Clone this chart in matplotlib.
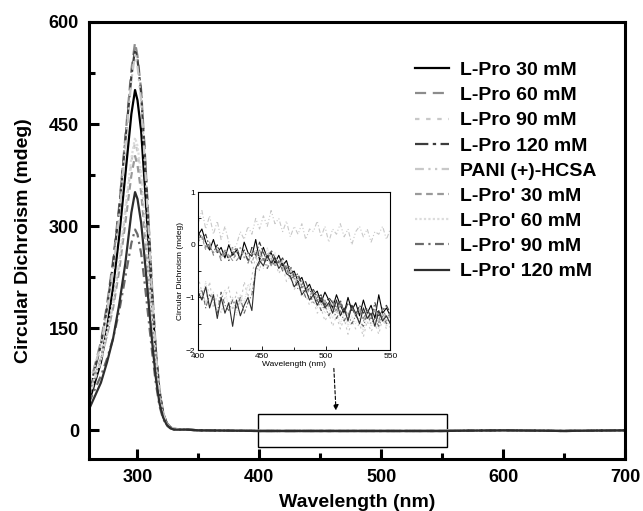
import numpy as np
import matplotlib
matplotlib.use("Agg")
import matplotlib.pyplot as plt
from matplotlib.patches import Rectangle

plt.rcParams['font.family'] = ['Liberation Sans', 'DejaVu Sans']

# ---------------------------------------------------------------------
# data
# ---------------------------------------------------------------------
labels = ["L-Pro 30 mM", "L-Pro 60 mM", "L-Pro 90 mM", "L-Pro 120 mM",
          "PANI (+)-HCSA", "L-Pro' 30 mM", "L-Pro' 60 mM", "L-Pro' 90 mM",
          "L-Pro' 120 mM"]

# main spectrum wavelengths (nm)
wl = [260, 265, 270, 275, 280, 285, 290, 295, 298, 300, 303, 306, 309, 312,
      315, 318, 321, 324, 327, 330, 340, 350, 400, 450, 500, 550, 600, 650, 700]

cd_lpro30 = [40, 70, 100, 150, 210, 285, 375, 465, 500, 485, 440, 360, 275, 190,
             110, 55, 25, 10, 4, 2, 1, 0, -1, -1, -1, -1, 0, -1, 0]
cd_lpro60 = [60, 95, 130, 185, 250, 330, 430, 530, 570, 550, 500, 410, 310, 210,
             120, 60, 27, 11, 5, 2, 1, 0, -1, -1, -1, -1, 0, -1, 0]
cd_lpro90 = [45, 75, 100, 140, 185, 245, 320, 395, 423, 410, 370, 305, 230, 160,
             95, 48, 22, 9, 4, 2, 1, 0, 0, 0, -1, -1, 0, -1, 0]
cd_lpro120 = [55, 90, 125, 180, 245, 325, 425, 520, 560, 545, 495, 405, 305, 205,
              118, 58, 26, 10, 4, 2, 1, 0, -1, -1, -1, -1, 0, -1, 0]
cd_pani = [65, 95, 125, 175, 235, 315, 415, 515, 552, 535, 485, 395, 300, 200,
           115, 57, 26, 10, 4, 2, 1, 0, 0, 0, 0, 0, 0, 0, 0]
cd_lpro2_30 = [50, 80, 105, 140, 180, 235, 305, 375, 403, 390, 350, 290, 220, 150,
               90, 45, 21, 9, 4, 2, 1, 0, -1, -1, -1, -1, 0, -1, 0]
cd_lpro2_60 = [48, 78, 105, 145, 190, 250, 325, 400, 430, 418, 378, 310, 235, 162,
               96, 48, 22, 9, 4, 2, 1, 0, -1, -1, -1, -1, 0, -1, 0]
cd_lpro2_90 = [40, 60, 80, 105, 135, 175, 225, 275, 295, 288, 260, 215, 165, 115,
               70, 36, 17, 7, 3, 1, 1, 0, -1, -1, -1, -1, 0, -1, 0]
cd_lpro2_120 = [30, 50, 70, 100, 135, 185, 245, 320, 350, 340, 305, 250, 190, 130,
                78, 40, 19, 8, 3, 1, 1, 0, -1, -1, -1, -1, 0, -1, 0]

# zoomed region 400-550 nm (mdeg), equally spaced samples
in_lpro30 = [0.18, 0.30, 0.05, -0.10, 0.10, -0.15, -0.05, -0.25, 0.00, -0.20,
             -0.10, -0.28, 0.05, -0.15, -0.22, 0.10, -0.30, -0.05, -0.25, -0.15,
             -0.35, -0.20, -0.40, -0.30, -0.55, -0.50, -0.70, -0.62, -0.85, -0.75,
             -0.95, -0.88, -1.10, -0.90, -1.05, -1.20, -0.95, -1.15, -1.30, -1.00,
             -1.25, -1.10, -1.35, -1.05, -1.30, -1.15, -1.40, -0.95, -1.30, -1.20,
             -1.35]
in_lpro60 = [0.10, 0.20, -0.05, 0.05, -0.20, -0.10, -0.30, -0.15, -0.25, -0.05,
             -0.30, -0.20, -0.10, -0.35, -0.15, -0.25, -0.10, -0.30, -0.20, -0.40,
             -0.25, -0.35, -0.30, -0.50, -0.45, -0.65, -0.60, -0.80, -0.78, -0.95,
             -0.90, -1.05, -1.00, -1.10, -1.15, -1.05, -1.25, -1.10, -1.20, -1.35,
             -1.15, -1.30, -1.20, -1.40, -1.25, -1.35, -1.25, -1.45, -1.20, -1.40,
             -1.30]
in_lpro90 = [-0.60, -0.90, -1.10, -0.70, -1.20, -0.95, -1.30, -1.00, -0.80, -1.25,
             -0.90, -1.15, -0.70, -1.00, -0.60, -0.20, -0.50, -0.10, -0.40, -0.20,
             -0.30, -0.55, -0.40, -0.70, -0.60, -0.85, -0.75, -1.00, -0.95, -1.15,
             -1.05, -1.30, -1.20, -1.45, -1.30, -1.55, -1.35, -1.60, -1.40, -1.70,
             -1.45, -1.60, -1.50, -1.75, -1.45, -1.65, -1.50, -1.70, -1.40, -1.60,
             -1.55]
in_lpro120 = [0.25, 0.10, 0.20, -0.05, -0.15, 0.00, -0.20, -0.10, -0.30, -0.15,
              -0.05, -0.25, -0.10, -0.30, -0.05, -0.20, 0.05, -0.15, -0.30, -0.10,
              -0.25, -0.35, -0.25, -0.45, -0.40, -0.60, -0.55, -0.75, -0.70, -0.90,
              -0.85, -1.00, -0.95, -1.15, -1.00, -1.10, -1.20, -1.05, -1.30, -1.10,
              -1.20, -1.35, -1.15, -1.30, -1.20, -1.40, -1.10, -1.35, -1.25, -1.15,
              -1.30]
in_pani = [0.40, 0.65, 0.30, 0.55, 0.20, 0.45, 0.10, 0.35, 0.05, -0.10,
           0.00, 0.25, 0.10, 0.35, 0.20, 0.50, 0.30, 0.55, 0.35, 0.65,
           0.40, 0.50, 0.25, 0.45, 0.15, 0.35, 0.20, 0.40, 0.10, 0.30,
           0.25, 0.45, 0.15, 0.35, 0.05, 0.30, 0.20, 0.40, 0.15, 0.30,
           0.00, 0.25, 0.35, 0.15, 0.30, 0.05, 0.25, 0.20, 0.35, 0.10,
           0.30]
in_lpro2_30 = [0.05, 0.15, -0.10, 0.00, -0.15, -0.05, -0.25, -0.10, -0.20, -0.30,
               -0.15, -0.05, -0.25, -0.15, -0.35, -0.10, -0.20, -0.30, -0.15, -0.25,
               -0.40, -0.30, -0.45, -0.40, -0.60, -0.55, -0.75, -0.68, -0.90, -0.82,
               -1.00, -0.95, -1.15, -1.05, -1.20, -1.10, -1.30, -1.15, -1.25, -1.40,
               -1.20, -1.35, -1.25, -1.45, -1.30, -1.40, -1.20, -1.50, -1.30, -1.45,
               -1.35]
in_lpro2_60 = [-0.80, -1.00, -0.70, -1.15, -0.90, -1.25, -1.05, -0.85, -1.20, -1.00,
               -1.35, -0.95, -1.10, -0.75, -0.90, -0.40, -0.15, -0.45, -0.05, -0.30,
               -0.15, -0.40, -0.30, -0.55, -0.50, -0.70, -0.65, -0.90, -0.85, -1.05,
               -1.00, -1.20, -1.10, -1.30, -1.20, -1.40, -1.25, -1.50, -1.30, -1.55,
               -1.35, -1.50, -1.40, -1.65, -1.35, -1.55, -1.45, -1.60, -1.35, -1.55,
               -1.45]
in_lpro2_90 = [-1.00, -0.85, -1.20, -0.95, -1.05, -1.30, -0.90, -1.15, -1.25, -1.05,
               -1.20, -1.00, -1.30, -1.10, -0.95, -0.50, -0.35, -0.25, -0.45, -0.30,
               -0.40, -0.30, -0.50, -0.45, -0.65, -0.60, -0.85, -0.80, -1.00, -0.95,
               -1.10, -1.05, -1.25, -1.15, -1.35, -1.20, -1.40, -1.25, -1.45, -1.30,
               -1.50, -1.35, -1.45, -1.55, -1.30, -1.50, -1.40, -1.55, -1.35, -1.50,
               -1.40]
in_lpro2_120 = [-0.90, -1.05, -0.80, -1.20, -0.95, -1.40, -1.00, -1.30, -1.10, -1.55,
                -1.05, -1.35, -1.15, -1.00, -1.25, -0.45, -0.30, -0.40, -0.20, -0.35,
                -0.25, -0.45, -0.35, -0.55, -0.60, -0.80, -0.70, -0.95, -0.85, -1.05,
                -0.95, -1.15, -1.00, -1.20, -1.10, -1.30, -1.05, -1.35, -1.20, -1.45,
                -1.15, -1.30, -1.50, -1.20, -1.40, -1.30, -1.55, -1.25, -1.45, -1.35,
                -1.50]

main_series = [cd_lpro30, cd_lpro60, cd_lpro90, cd_lpro120, cd_pani,
               cd_lpro2_30, cd_lpro2_60, cd_lpro2_90, cd_lpro2_120]
inset_series = [in_lpro30, in_lpro60, in_lpro90, in_lpro120, in_pani,
                in_lpro2_30, in_lpro2_60, in_lpro2_90, in_lpro2_120]

# line styles, same order as labels
colors = ["#000000", "#8c8c8c", "#c8c8c8", "#3c3c3c", "#c8c8c8",
          "#9a9a9a", "#dcdcdc", "#6a6a6a", "#2e2e2e"]
styles = ["-", (0, (5, 3)), (0, (2, 3)), (0, (6, 2, 1.5, 2)),
          (0, (4, 2, 1, 2, 1, 2)), (0, (3, 2)), (0, (1, 1)),
          (0, (4, 2, 1, 2)), "-"]


def main():
    fig = plt.figure(figsize=(6.43, 5.11), dpi=100)
    ax = fig.add_axes([0.138, 0.102, 0.834, 0.855])

    for y, lab, c, ls in zip(main_series, labels, colors, styles):
        ax.plot(wl, y, color=c, ls=ls, lw=1.6, label=lab)

    ax.set_xlim(260, 700)
    ax.set_ylim(-42, 600)
    ax.set_xticks([300, 400, 500, 600, 700])
    ax.set_xticks([350, 450, 550, 650], minor=True)
    ax.set_yticks([0, 150, 300, 450, 600])
    ax.set_yticks([75, 225, 375, 525], minor=True)
    ax.tick_params(which="both", direction="in", width=2.2)
    ax.tick_params(which="major", length=7, labelsize=13, pad=7)
    ax.tick_params(which="minor", length=4)
    for s in ax.spines.values():
        s.set_linewidth(2.2)
    for t in ax.get_xticklabels() + ax.get_yticklabels():
        t.set_fontweight("bold")
    ax.set_xlabel("Wavelength (nm)", fontsize=14, fontweight="bold", labelpad=6)
    ax.set_ylabel("Circular Dichroism (mdeg)", fontsize=14, fontweight="bold",
                  labelpad=12)

    # zoom box and arrow toward the inset
    ax.add_patch(Rectangle((399, -24), 155, 48, fill=False, ec="black", lw=1))
    ax.annotate("", xy=(463, 25), xytext=(461, 95),
                arrowprops=dict(arrowstyle="-|>", ls=(0, (3, 2)), lw=0.8,
                                color="black", mutation_scale=8))

    ax.legend(loc="upper left", bbox_to_anchor=(0.575, 0.95), frameon=False,
              prop=dict(size=14, weight="bold"), handlelength=1.75,
              labelspacing=0.39, handletextpad=0.57)

    # inset
    ins = fig.add_axes([0.308, 0.315, 0.299, 0.309])
    for y, c, ls in zip(inset_series, colors, styles):
        ins.plot(np.linspace(400, 550, len(y)), y, color=c, ls=ls, lw=0.8)
    ins.set_xlim(400, 550)
    ins.set_ylim(-2, 1)
    ins.set_xticks([400, 450, 500, 550])
    ins.set_xticks([425, 475, 525], minor=True)
    ins.set_yticks([-2, -1, 0, 1])
    ins.set_yticks([-1.5, -0.5, 0.5], minor=True)
    ins.tick_params(which="both", direction="in", labelsize=6, width=0.6, pad=2)
    ins.tick_params(which="major", length=3)
    ins.tick_params(which="minor", length=2)
    for s in ins.spines.values():
        s.set_linewidth(0.8)
    ins.set_xlabel("Wavelength (nm)", fontsize=6, labelpad=1)
    ins.set_ylabel("Circular Dichroism (mdeg)", fontsize=6, labelpad=1)

    fig.savefig("out.png", dpi=100)


if __name__ == "__main__":
    main()
